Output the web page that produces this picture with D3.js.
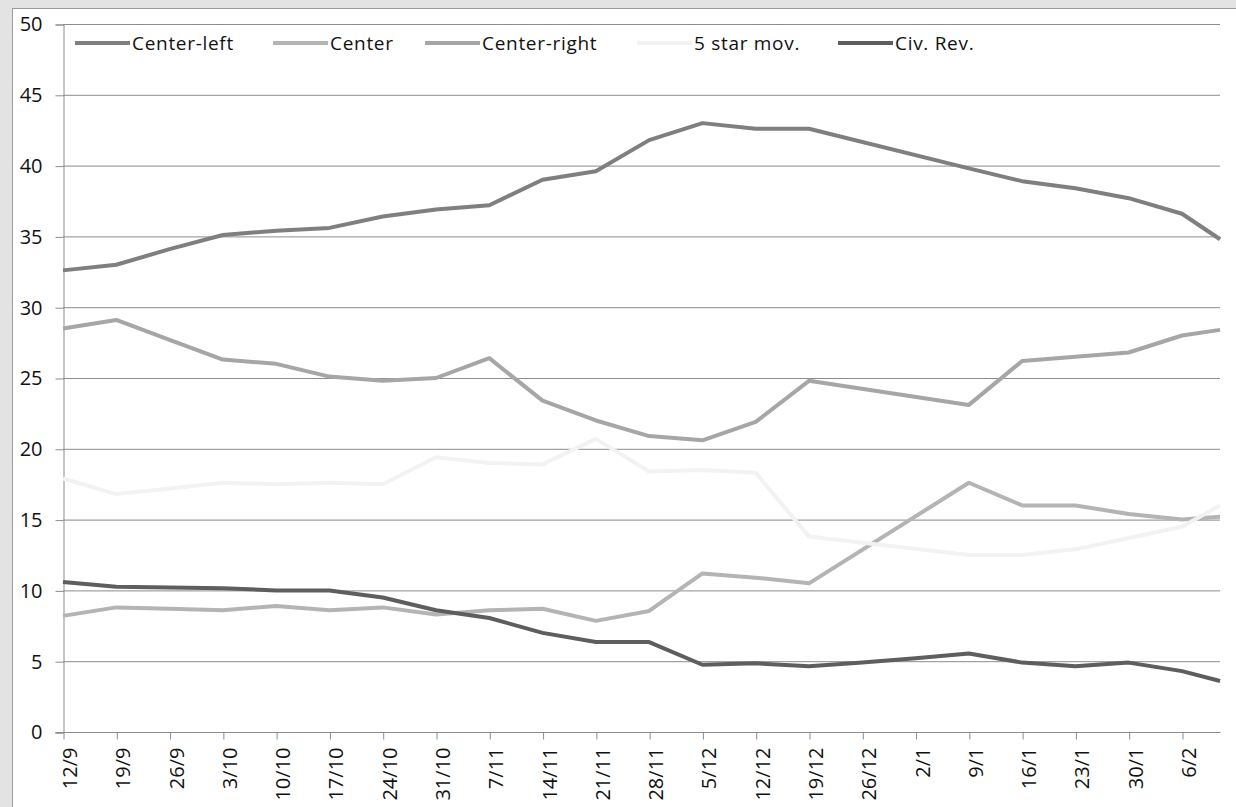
<!DOCTYPE html>
<html>
<head>
<meta charset="utf-8">
<script src="https://cdn.jsdelivr.net/npm/d3@7"></script>
<style>
  body { margin: 0; background: #e3e3e3; }
  text { font-family: "Open Sans", "Noto Sans", sans-serif; fill: #111; }
</style>
</head>
<body>
<svg id="chart" width="1236" height="807"></svg>
<script>
// tick labels (weekly) and day offsets from 12/9
const tickLabels = ["12/9","19/9","26/9","3/10","10/10","17/10","24/10","31/10","7/11","14/11","21/11",
  "28/11","5/12","12/12","19/12","26/12","2/1","9/1","16/1","23/1","30/1","6/2"]
const tickDays = tickLabels.map((d, i) => i * 7)

// poll dates (days from 12/9), last one is 11/2
const pollDays = [0,7,14,21,28,35,42,49,56,63,70,77,84,91,98,105,112,119,126,133,140,147,152]

const centerLeft  = [32.6,33.0,34.1,35.1,35.4,35.6,36.4,36.9,37.2,39.0,39.6,41.8,43.0,42.6,42.6,null,null,39.8,38.9,38.4,37.7,36.6,34.8]
const center      = [8.2,8.8,8.7,8.6,8.9,8.6,8.8,8.3,8.6,8.7,7.85,8.55,11.2,10.9,10.5,null,null,17.6,16.0,16.0,15.4,15.0,15.2]
const centerRight = [28.5,29.1,27.7,26.3,26.0,25.1,24.8,25.0,26.4,23.4,22.0,20.9,20.6,21.9,24.8,null,null,23.1,26.2,26.5,26.8,28.0,28.4]
const fiveStar    = [17.9,16.8,17.2,17.6,17.5,17.6,17.5,19.4,19.0,18.9,20.7,18.4,18.5,18.3,13.8,null,null,12.5,12.5,12.9,13.7,14.5,16.0]
const civRev      = [10.6,10.25,10.2,10.15,10.0,10.0,9.5,8.6,8.05,7.0,6.35,6.35,4.75,4.85,4.65,4.9,5.2,5.55,4.9,4.65,4.9,4.3,3.6]

const seriesNames = ["Center-left","Center","Center-right","5 star mov.","Civ. Rev."]
const seriesValues = [centerLeft, center, centerRight, fiveStar, civRev]
const seriesColors = ["#7f7f7f","#b4b4b4","#a6a6a6","#f2f2f2","#5e5e5e"]
const legendX = [75, 273, 425, 637, 838]

const yTicks = d3.range(0, 51, 5)

const svg = d3.select("#chart")

svg.append("rect")
  .attr("x", 12.5).attr("y", 8.5)
  .attr("width", 1300).attr("height", 900)
  .attr("fill", "white")
  .attr("stroke", "#9a9a9a")

const plotLeft = 63, plotRight = 1220, plotTop = 24, plotBottom = 732

const x = d3.scaleLinear().domain([0, 147]).range([plotLeft, 1182])
const y = d3.scaleLinear().domain([0, 50]).range([plotBottom, plotTop])

// gridlines
svg.append("g")
  .selectAll("line")
  .data(yTicks.filter(d => d > 0))
  .join("line")
  .attr("x1", plotLeft).attr("x2", plotRight)
  .attr("y1", d => y(d) + 0.5).attr("y2", d => y(d) + 0.5)
  .attr("stroke", "#8c8c8c")
  .attr("stroke-width", 1)

// y axis
let yAxis = svg.append("g")
  .attr("transform", `translate(${plotLeft + 0.5},0.5)`)
  .call(d3.axisLeft(y).tickValues(yTicks).tickSize(8).tickPadding(13))
yAxis.select(".domain").attr("stroke", "#8c8c8c")
yAxis.selectAll(".tick line").attr("stroke", "#8c8c8c")
yAxis.selectAll(".tick text")
  .attr("font-size", 20)
  .style("font-family", "'Open Sans', sans-serif")
  .attr("fill", "#111")

// x axis
let xAxis = svg.append("g")
  .attr("transform", `translate(0.5,${plotBottom + 0.5})`)
  .call(d3.axisBottom(x).tickValues(tickDays).tickFormat((d, i) => tickLabels[i]).tickSize(7).tickSizeOuter(0))
xAxis.select(".domain").attr("d", `M${plotLeft - 8},0H${plotRight}`).attr("stroke", "#8c8c8c")
xAxis.selectAll(".tick line").attr("stroke", "#8c8c8c")
xAxis.selectAll(".tick text")
  .attr("font-size", 20)
  .style("font-family", "'Open Sans', sans-serif")
  .attr("fill", "#111")
  .attr("text-anchor", "end")
  .attr("transform", "rotate(-90)")
  .attr("x", -15).attr("y", 6).attr("dy", "0.35em")

// lines
const line = d3.line()
  .x(d => x(d[0]))
  .y(d => y(d[1]))

seriesValues.forEach((vals, i) => {
  let pts = pollDays.map((d, j) => [d, vals[j]]).filter(p => p[1] !== null)
  svg.append("path")
    .datum(pts)
    .attr("fill", "none")
    .attr("stroke", seriesColors[i])
    .attr("stroke-width", 4)
    .attr("stroke-linejoin", "round")
    .attr("d", line)
})

// legend
let legend = svg.append("g")
seriesNames.forEach((name, i) => {
  let g = legend.append("g").attr("transform", `translate(${legendX[i]},43)`)
  g.append("line")
    .attr("x1", 0).attr("x2", 55)
    .attr("stroke", seriesColors[i])
    .attr("stroke-width", 4)
  g.append("text")
    .attr("x", 57).attr("y", 0).attr("dy", "0.35em")
    .attr("font-size", 19)
    .attr("letter-spacing", 0.7)
    .text(name)
})
</script>
</body>
</html>
